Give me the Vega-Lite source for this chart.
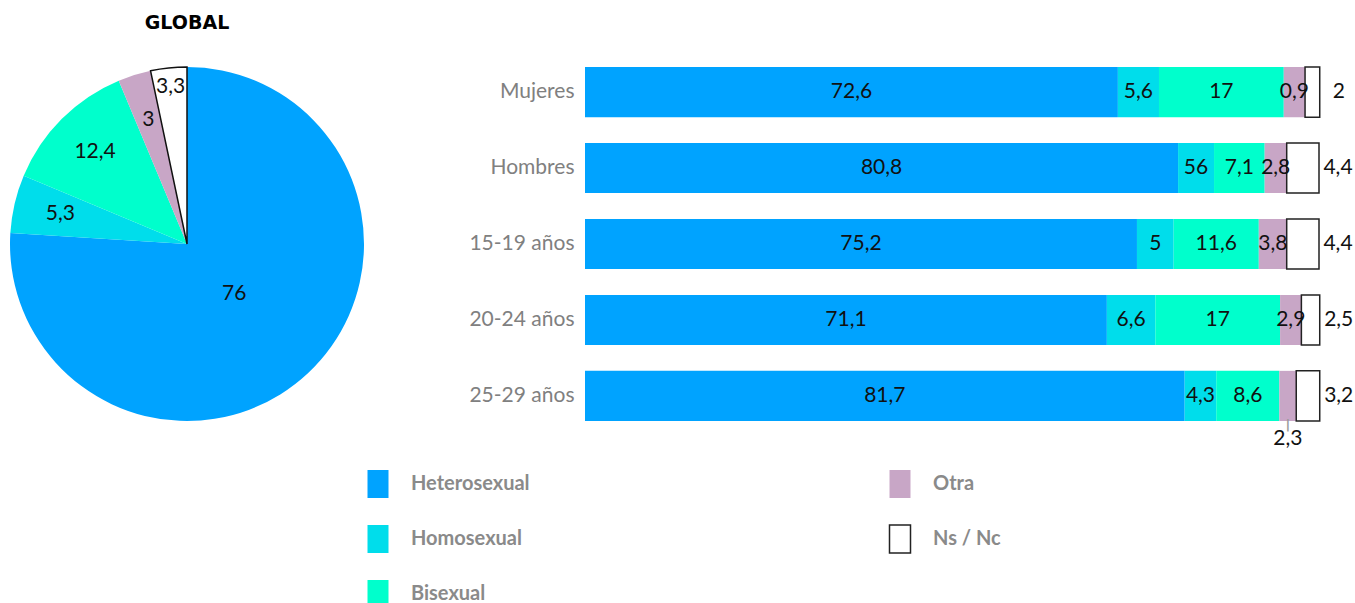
{
  "$schema": "https://vega.github.io/schema/vega-lite/v6.json",
  "padding": {"left": 10, "top": 14, "right": 0, "bottom": 0},
  "background": "white",
  "config": {"view": {"stroke": null}, "font": "Lato"},
  "datasets": {
    "pie": [
      {"cat": "Heterosexual", "v": 76, "label": "76", "o": 1},
      {"cat": "Homosexual", "v": 5.3, "label": "5,3", "o": 2},
      {"cat": "Bisexual", "v": 12.4, "label": "12,4", "o": 3},
      {"cat": "Otra", "v": 3, "label": "3", "o": 4},
      {"cat": "Ns / Nc", "v": 3.3, "label": "3,3", "o": 5}
    ],
    "bars": [
      {"row": "Mujeres", "cat": "Heterosexual", "v": 72.6, "label": "72,6", "o": 1},
      {"row": "Mujeres", "cat": "Homosexual", "v": 5.6, "label": "5,6", "o": 2},
      {"row": "Mujeres", "cat": "Bisexual", "v": 17, "label": "17", "o": 3},
      {"row": "Mujeres", "cat": "Otra", "v": 2.9, "label": "0,9", "o": 4},
      {"row": "Mujeres", "cat": "Ns / Nc", "v": 2, "label": "2", "o": 5},
      {"row": "Hombres", "cat": "Heterosexual", "v": 80.8, "label": "80,8", "o": 1},
      {"row": "Hombres", "cat": "Homosexual", "v": 4.9, "label": "56", "o": 2},
      {"row": "Hombres", "cat": "Bisexual", "v": 6.9, "label": "7,1", "o": 3},
      {"row": "Hombres", "cat": "Otra", "v": 3.0, "label": "2,8", "o": 4},
      {"row": "Hombres", "cat": "Ns / Nc", "v": 4.4, "label": "4,4", "o": 5},
      {"row": "15-19 años", "cat": "Heterosexual", "v": 75.2, "label": "75,2", "o": 1},
      {"row": "15-19 años", "cat": "Homosexual", "v": 5, "label": "5", "o": 2},
      {"row": "15-19 años", "cat": "Bisexual", "v": 11.6, "label": "11,6", "o": 3},
      {"row": "15-19 años", "cat": "Otra", "v": 3.8, "label": "3,8", "o": 4},
      {"row": "15-19 años", "cat": "Ns / Nc", "v": 4.4, "label": "4,4", "o": 5},
      {"row": "20-24 años", "cat": "Heterosexual", "v": 71.1, "label": "71,1", "o": 1},
      {"row": "20-24 años", "cat": "Homosexual", "v": 6.6, "label": "6,6", "o": 2},
      {"row": "20-24 años", "cat": "Bisexual", "v": 17, "label": "17", "o": 3},
      {"row": "20-24 años", "cat": "Otra", "v": 2.9, "label": "2,9", "o": 4},
      {"row": "20-24 años", "cat": "Ns / Nc", "v": 2.5, "label": "2,5", "o": 5},
      {"row": "25-29 años", "cat": "Heterosexual", "v": 81.7, "label": "81,7", "o": 1},
      {"row": "25-29 años", "cat": "Homosexual", "v": 4.3, "label": "4,3", "o": 2},
      {"row": "25-29 años", "cat": "Bisexual", "v": 8.6, "label": "8,6", "o": 3},
      {"row": "25-29 años", "cat": "Otra", "v": 2.3, "label": "2,3", "o": 4},
      {"row": "25-29 años", "cat": "Ns / Nc", "v": 3.2, "label": "3,2", "o": 5}
    ],
    "legend": [
      {"cat": "Heterosexual", "col": 0, "r": 0},
      {"cat": "Homosexual", "col": 0, "r": 1},
      {"cat": "Bisexual", "col": 0, "r": 2},
      {"cat": "Otra", "col": 1, "r": 0},
      {"cat": "Ns / Nc", "col": 1, "r": 1}
    ]
  },
  "spacing": 21,
  "vconcat": [
    {
      "spacing": 104,
      "hconcat": [
        {
          "data": {"name": "pie"},
          "width": 354,
          "height": 354,
          "title": {"text": "GLOBAL", "fontSize": 19, "fontWeight": "bold", "color": "#000", "anchor": "middle", "offset": 31, "font": "DejaVu Sans"},
          "encoding": {
            "theta": {"field": "v", "type": "quantitative", "stack": true},
            "order": {"field": "o", "type": "quantitative"}
          },
          "layer": [
            {
              "mark": {"type": "arc", "outerRadius": 177, "stroke": "#111"},
              "encoding": {
                "color": {"field": "cat", "type": "nominal", "scale": {"domain": ["Heterosexual", "Homosexual", "Bisexual", "Otra", "Ns / Nc"], "range": ["#00A3FF", "#00DDEB", "#00FFCC", "#C8A6C6", "#FFFFFF"]}, "legend": null},
                "strokeWidth": {"condition": {"test": "datum.cat === 'Ns / Nc'", "value": 1.5}, "value": 0}
              }
            },
            {
              "mark": {"type": "text", "radius": 69, "fontSize": 21, "color": "#111"},
              "encoding": {"text": {"condition": {"test": "datum.cat === 'Heterosexual'", "field": "label"}, "value": ""}}
            },
            {
              "mark": {"type": "text", "radius": 130, "fontSize": 21, "color": "#111"},
              "encoding": {"text": {"condition": {"test": "datum.cat !== 'Heterosexual' && datum.cat !== 'Ns / Nc'", "field": "label"}, "value": ""}}
            },
            {
              "mark": {"type": "text", "radius": 158, "fontSize": 21, "color": "#111"},
              "encoding": {"text": {"condition": {"test": "datum.cat === 'Ns / Nc'", "field": "label"}, "value": ""}}
            }
          ]
        },
        {
          "data": {"name": "bars"},
          "width": 734,
          "height": 354,
          "transform": [
            {"stack": "v", "groupby": ["row"], "sort": [{"field": "o"}], "as": ["x0", "x1"]},
            {"calculate": "(datum.x0 + datum.x1) / 2", "as": "xm"}
          ],
          "encoding": {
            "y": {
              "field": "row", "type": "nominal",
              "sort": ["Mujeres", "Hombres", "15-19 años", "20-24 años", "25-29 años"],
              "scale": {"paddingInner": 0.34, "paddingOuter": 0},
              "axis": {"title": null, "domain": false, "ticks": false, "labelPadding": 11, "labelFontSize": 21, "labelColor": "#808080", "labelFont": "Lato"}
            }
          },
          "layer": [
            {
              "mark": {"type": "bar", "stroke": "#222"},
              "encoding": {
                "x": {"field": "x0", "type": "quantitative", "scale": {"domain": [0, 100], "nice": false, "zero": false}, "axis": null},
                "x2": {"field": "x1"},
                "color": {"field": "cat", "type": "nominal", "scale": {"domain": ["Heterosexual", "Homosexual", "Bisexual", "Otra", "Ns / Nc"], "range": ["#00A3FF", "#00DDEB", "#00FFCC", "#C8A6C6", "#FFFFFF"]}, "legend": null},
                "strokeWidth": {"condition": {"test": "datum.cat === 'Ns / Nc'", "value": 1.5}, "value": 0}
              }
            },
            {
              "transform": [{"filter": "datum.cat !== 'Ns / Nc' && !(datum.row === '25-29 años' && datum.cat === 'Otra')"}],
              "mark": {"type": "text", "fontSize": 21, "color": "#111"},
              "encoding": {"x": {"field": "xm", "type": "quantitative"}, "text": {"field": "label"}}
            },
            {
              "transform": [{"filter": "datum.cat === 'Ns / Nc'"}],
              "mark": {"type": "text", "fontSize": 21, "color": "#111", "dx": 19},
              "encoding": {"x": {"field": "x1", "type": "quantitative"}, "text": {"field": "label"}}
            },
            {
              "transform": [{"filter": "datum.row === '25-29 años' && datum.cat === 'Otra'"}],
              "mark": {"type": "text", "fontSize": 21, "color": "#111", "dy": 43},
              "encoding": {"x": {"field": "xm", "type": "quantitative"}, "text": {"field": "label"}}
            },
            {
              "transform": [{"filter": "datum.row === '25-29 años' && datum.cat === 'Otra'"}],
              "mark": {"type": "text", "fontSize": 13, "fontWeight": "bold", "color": "#9a9a9a", "dy": 29, "baseline": "middle", "font": "DejaVu Sans"},
              "encoding": {"x": {"field": "xm", "type": "quantitative"}, "text": {"value": "|"}}
            }
          ]
        }
      ]
    },
    {
      "data": {"name": "legend"},
      "width": 1000,
      "height": 110,
      "encoding": {
        "x": {"field": "col", "type": "quantitative", "scale": {"domain": [0, 1], "range": [368, 890]}, "axis": null},
        "y": {"field": "r", "type": "quantitative", "scale": {"domain": [0, 2], "range": [0, 110]}, "axis": null}
      },
      "layer": [
        {
          "mark": {"type": "point", "shape": "M-0.75,-1H0.75V1H-0.75Z", "size": 784, "filled": true, "opacity": 1, "stroke": "#222"},
          "encoding": {
            "fill": {"field": "cat", "type": "nominal", "scale": {"domain": ["Heterosexual", "Homosexual", "Bisexual", "Otra", "Ns / Nc"], "range": ["#00A3FF", "#00DDEB", "#00FFCC", "#C8A6C6", "#FFFFFF"]}, "legend": null},
            "strokeWidth": {"condition": {"test": "datum.cat === 'Ns / Nc'", "value": 1.5}, "value": 0}
          }
        },
        {
          "mark": {"type": "text", "align": "left", "baseline": "middle", "dx": 33, "fontSize": 20, "fontWeight": "bold", "color": "#8a8a8a"},
          "encoding": {"text": {"field": "cat"}}
        }
      ]
    }
  ]
}
